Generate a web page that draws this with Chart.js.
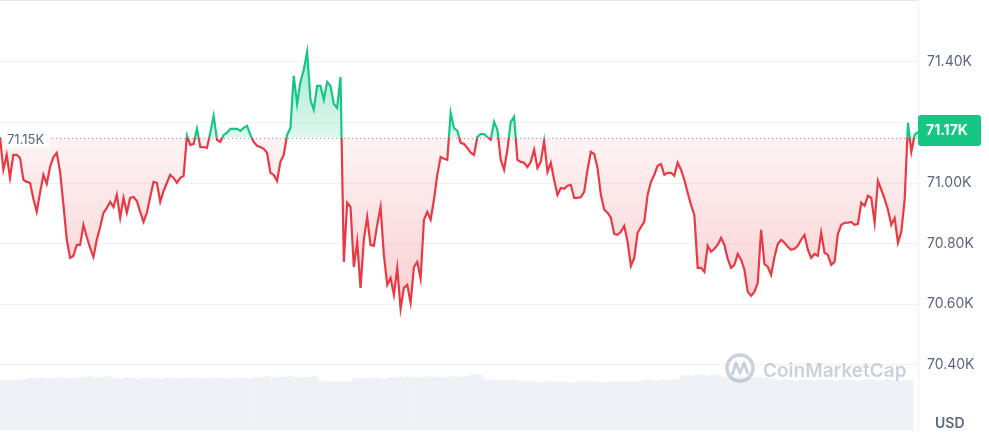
<!DOCTYPE html>
<html>
<head>
<meta charset="utf-8">
<script src="https://cdn.jsdelivr.net/npm/chart.js@4.4.1/dist/chart.umd.min.js"></script>
<style>
  html, body { margin: 0; padding: 0; background: #fff; }
  #wrap { position: relative; width: 989px; height: 436px; }
</style>
</head>
<body>
<div id="wrap"><canvas id="priceChart"></canvas></div>
<script>
// Цена открытия периода (пунктирная линия) и деления оси
const basePrice = 71150;
const yTicks = [70400, 70600, 70800, 71000, 71200, 71400];

// Цена, USD (шаг 5 минут)
const prices = [
  71152, 71044, 71093, 71017, 71093, 71093, 71083, 71011, 71004, 71001,
  70948, 70905, 70968, 71027, 70997, 71053, 71086, 71100, 71037, 70928,
  70813, 70753, 70760, 70796, 70796, 70862, 70822, 70786, 70756, 70813,
  70855, 70902, 70918, 70938, 70921, 70961, 70885, 70951, 70902, 70951,
  70954, 70941, 70905, 70872, 70902, 70954, 71004, 71001, 70938, 70974,
  71001, 71027, 71017, 71001, 71017, 71024, 71156, 71126, 71129, 71179,
  71119, 71119, 71116, 71166, 71222, 71143, 71136, 71159, 71166, 71179,
  71179, 71179, 71172, 71182, 71189, 71159, 71136, 71123, 71119, 71113,
  71100, 71034, 71027, 71007, 71070, 71093, 71159, 71182, 71354, 71261,
  71334, 71374, 71433, 71275, 71242, 71321, 71321, 71275, 71334, 71321,
  71261, 71248, 71350, 70740, 70935, 70921, 70723, 70806, 70654, 70813,
  70888, 70796, 70793, 70862, 70921, 70763, 70664, 70687, 70631, 70720,
  70585, 70654, 70664, 70605, 70723, 70740, 70684, 70879, 70905, 70879,
  70945, 71027, 71086, 71080, 71077, 71232, 71182, 71172, 71133, 71129,
  71116, 71100, 71093, 71152, 71162, 71162, 71152, 71143, 71202, 71176,
  71077, 71044, 71110, 71202, 71219, 71077, 71070, 71067, 71053, 71070,
  71110, 71050, 71070, 71139, 71037, 71067, 71011, 70961, 70984, 70981,
  70991, 70994, 70951, 70951, 70954, 70971, 71044, 71103, 71096, 71050,
  70961, 70912, 70902, 70885, 70832, 70829, 70839, 70859, 70806, 70727,
  70753, 70836, 70855, 70872, 70961, 71004, 71027, 71057, 71063, 71027,
  71034, 71034, 71024, 71067, 71044, 71011, 70968, 70928, 70895, 70720,
  70720, 70707, 70793, 70773, 70783, 70796, 70819, 70796, 70750, 70720,
  70730, 70766, 70747, 70714, 70641, 70628, 70641, 70671, 70846, 70733,
  70723, 70697, 70756, 70799, 70813, 70803, 70790, 70780, 70783, 70793,
  70813, 70829, 70780, 70753, 70766, 70760, 70836, 70770, 70763, 70730,
  70740, 70832, 70862, 70869, 70869, 70872, 70862, 70865, 70935, 70925,
  70958, 70951, 70869, 71007, 70978, 70948, 70912, 70862, 70885, 70803,
  70839, 70945, 71199, 71103, 71159, 71169
];

// Объем торгов, млн USD
const volumes = [
  51, 50, 51, 51, 50, 51, 52, 51, 52,
  53, 52, 53, 53, 54, 53, 52, 53, 53, 54, 53, 53, 52, 53, 54, 53,
  54, 54, 55, 54, 53, 54, 54, 55, 54,
  53, 53, 52, 53, 54, 53, 53, 52, 53, 53,
  53, 54, 53, 53, 52, 53, 53, 53, 54, 53,
  52, 53, 53, 53, 54, 53, 53, 52, 53, 53,
  54, 53, 53, 53, 52, 53, 54, 53, 53, 53,
  53, 52,
  54, 54, 53, 54, 55, 54, 54, 53, 54, 54, 54, 55, 54, 54, 53, 54, 54, 54, 55, 54,
  49, 50, 49, 49, 50, 49, 49, 50, 49, 50,
  52, 53, 53, 52, 53, 53, 54, 53, 53, 52, 53,
  54, 54, 53, 54, 54, 55, 54, 54, 53, 54, 54, 54, 55, 54, 54, 53, 54, 54, 55, 54, 54, 54, 55, 55,
  56, 57, 56, 56,
  52, 51, 51, 52, 51, 51, 50, 51, 51, 52, 51, 50,
  49, 49, 50, 49, 49, 48, 49, 50, 49, 49,
  49, 50, 49, 49, 48, 49, 49, 50, 49, 49,
  50, 49, 49, 48, 49, 49, 50, 49, 49, 49,
  50, 49, 49, 50, 49,
  51, 51, 52, 51, 51, 50, 51, 52, 51, 51, 52, 52,
  55, 56, 56, 55, 56, 57, 56, 56, 55, 56, 56, 56, 55,
  54, 54, 53, 54, 54, 55, 54, 54, 53, 54, 54, 54, 53, 54, 53,
  52, 51, 51, 52, 51, 51, 50, 51, 51, 52,
  51, 51, 50, 51, 52, 51, 51, 51, 50, 51,
  51, 52, 51, 51, 51, 50, 51, 51, 52, 51,
  51, 50, 51, 51, 52, 51, 51, 51, 50, 51,
  51, 51, 0, 0
];

const labels = prices.map((_, i) => i);

const green = "#16c784";
const red = "#ea3943";
const textGray = "#58667e";
const gridGray = "#eff2f5";
const fontFamily = "Inter, 'Noto Sans', sans-serif";

function formatK(v) {
  return (v / 1000).toFixed(2) + "K";
}

// Цвет линии: зеленый выше цены открытия, красный ниже
function lineColor(context) {
  const chart = context.chart;
  const area = chart.chartArea;
  if (!area) return red;
  const y = chart.scales.y.getPixelForValue(basePrice);
  let stop = (y - area.top) / (area.bottom - area.top);
  stop = Math.min(Math.max(stop, 0), 1);
  const g = chart.ctx.createLinearGradient(0, area.top, 0, area.bottom);
  g.addColorStop(0, green);
  g.addColorStop(stop, green);
  g.addColorStop(stop, red);
  g.addColorStop(1, red);
  return g;
}

// Заливка до линии открытия с градиентом
function areaFill(context) {
  const chart = context.chart;
  const area = chart.chartArea;
  if (!area) return { target: { value: basePrice } };
  const yScale = chart.scales.y;
  const y = yScale.getPixelForValue(basePrice);
  const top = yScale.getPixelForValue(Math.max(...prices));
  const bottom = yScale.getPixelForValue(Math.min(...prices));
  const up = chart.ctx.createLinearGradient(0, top, 0, y);
  up.addColorStop(0, "rgba(22, 199, 132, 0.38)");
  up.addColorStop(1, "rgba(22, 199, 132, 0.14)");
  const down = chart.ctx.createLinearGradient(0, y, 0, bottom);
  down.addColorStop(0, "rgba(234, 57, 67, 0.06)");
  down.addColorStop(1, "rgba(234, 57, 67, 0.24)");
  return { target: { value: basePrice }, above: up, below: down };
}

// Рамка, пунктир, подписи и водяной знак
const overlayPlugin = {
  id: "overlay",
  beforeDatasetsDraw(chart) {
    const { ctx, chartArea } = chart;
    const y = Math.round(chart.scales.y.getPixelForValue(basePrice)) + 0.5;
    ctx.save();
    ctx.strokeStyle = "#e3e6eb";
    ctx.lineWidth = 1;
    ctx.beginPath();
    ctx.moveTo(0, 0.5);
    ctx.lineTo(chartArea.right, 0.5);
    ctx.stroke();

    ctx.strokeStyle = "#9aa3b5";
    ctx.setLineDash([1, 3]);
    ctx.beginPath();
    ctx.moveTo(chartArea.left, y);
    ctx.lineTo(chartArea.right, y);
    ctx.stroke();
    ctx.restore();
  },
  afterDatasetsDraw(chart) {
    const { ctx, chartArea } = chart;
    const wm = "rgba(160, 172, 190, 0.55)";
    const cx = chartArea.right - 178;
    const cy = 368;
    ctx.save();
    ctx.strokeStyle = wm;
    ctx.lineWidth = 3.5;
    ctx.beginPath();
    ctx.arc(cx, cy, 13, 0, Math.PI * 2);
    ctx.stroke();
    ctx.lineWidth = 3;
    ctx.lineJoin = "round";
    ctx.beginPath();
    ctx.moveTo(cx - 8, cy + 7);
    ctx.lineTo(cx - 4, cy - 5);
    ctx.lineTo(cx, cy + 5);
    ctx.lineTo(cx + 4, cy - 5);
    ctx.lineTo(cx + 8, cy + 6);
    ctx.stroke();
    ctx.fillStyle = wm;
    ctx.font = "600 19px " + fontFamily;
    ctx.textBaseline = "middle";
    ctx.fillText("CoinMarketCap", chartArea.right - 155, cy + 3);
    ctx.restore();
  },
  afterDraw(chart) {
    const { ctx, chartArea } = chart;
    const yScale = chart.scales.y;
    ctx.save();

    // подпись цены открытия слева
    const by = yScale.getPixelForValue(basePrice);
    ctx.fillStyle = "#fff";
    ctx.fillRect(3, by - 8, 47, 18);
    ctx.fillStyle = textGray;
    ctx.font = "13px " + fontFamily;
    ctx.textBaseline = "middle";
    ctx.fillText(formatK(basePrice), 7, by + 2);

    // текущая цена на оси
    const last = prices[prices.length - 1];
    const ly = yScale.getPixelForValue(last);
    ctx.fillStyle = green;
    ctx.beginPath();
    ctx.roundRect(chartArea.right, ly - 17, 63, 31, 3);
    ctx.fill();
    ctx.fillStyle = "#fff";
    ctx.font = "bold 14px " + fontFamily;
    ctx.fillText(formatK(last), chartArea.right + 8, ly - 1);

    // валюта
    ctx.fillStyle = textGray;
    ctx.font = "600 14px " + fontFamily;
    ctx.fillText("USD", chartArea.right + 17, 424);
    ctx.restore();
  }
};

const ctx = document.getElementById("priceChart").getContext("2d");

new Chart(ctx, {
  type: "line",
  data: {
    labels: labels,
    datasets: [
      {
        label: "Price",
        data: prices,
        borderColor: lineColor,
        borderWidth: 2.2,
        pointRadius: 0,
        tension: 0,
        fill: areaFill,
        order: 0,
      },
      {
        type: "bar",
        label: "Volume",
        data: volumes,
        yAxisID: "v",
        backgroundColor: "#eef1f5",
        borderWidth: 0,
        barPercentage: 1,
        categoryPercentage: 1,
        order: 1,
      },
    ],
  },
  options: {
    responsive: true,
    maintainAspectRatio: false,
    animation: false,
    layout: {
      padding: { top: 1, bottom: 6, left: 0, right: 0 },
    },
    plugins: {
      legend: { display: false },
      tooltip: { enabled: false },
    },
    scales: {
      x: {
        display: false,
        offset: false,
      },
      y: {
        position: "right",
        min: 70185,
        max: 71601,
        afterBuildTicks: (axis) => {
          axis.ticks = yTicks.map((v) => ({ value: v }));
        },
        afterFit: (axis) => {
          axis.width = 71;
          axis.paddingTop = 0;
          axis.paddingBottom = 0;
        },
        grid: { color: gridGray, drawTicks: false },
        border: { display: true, color: gridGray },
        ticks: {
          padding: 9,
          color: textGray,
          font: { family: fontFamily, size: 14 },
          callback: (v) => formatK(v),
        },
      },
      v: {
        display: false,
        min: 0,
        max: 440,
      },
    },
  },
  plugins: [overlayPlugin],
});
</script>
</body>
</html>
